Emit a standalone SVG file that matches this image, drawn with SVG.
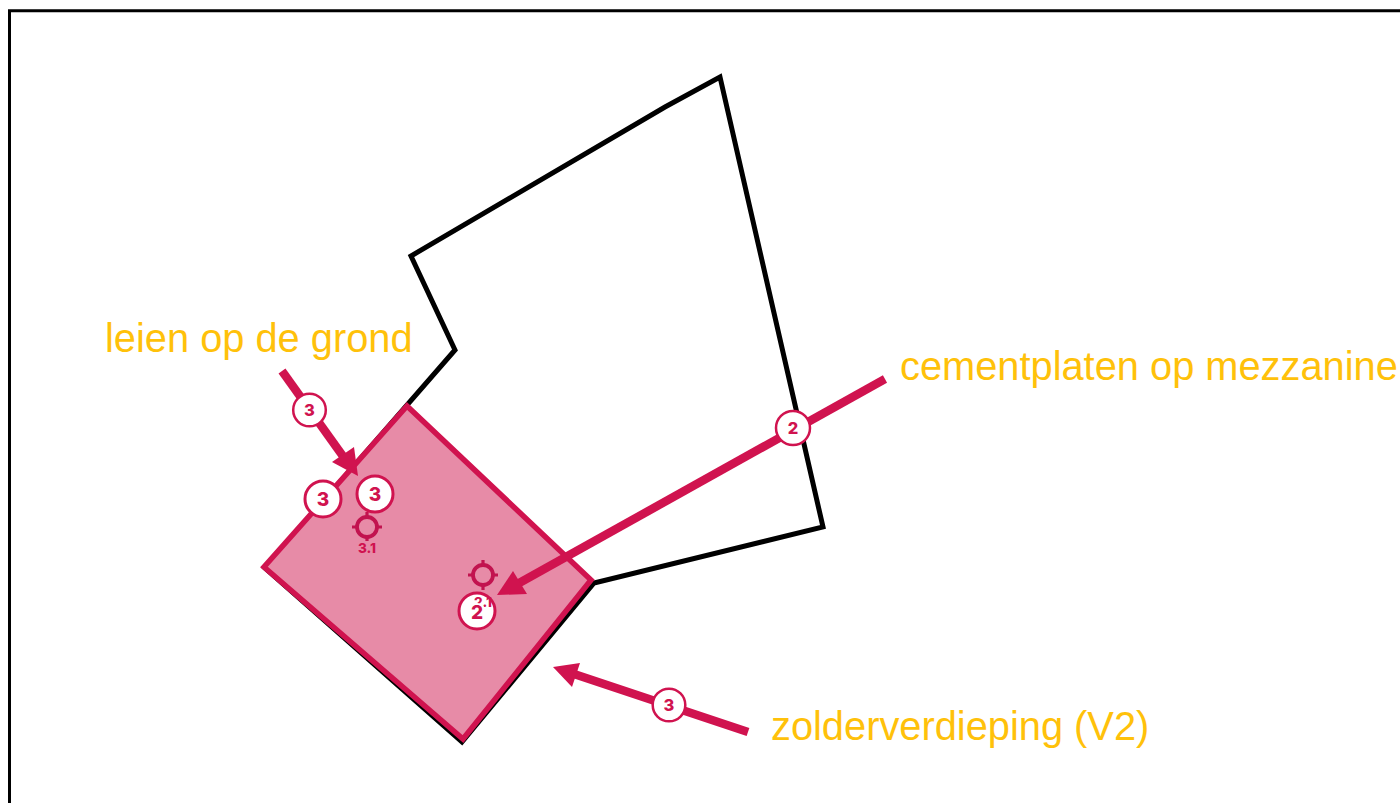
<svg xmlns="http://www.w3.org/2000/svg" width="1400" height="803" viewBox="0 0 1400 803">
<style>
.lbl{font-family:"Liberation Sans",Arial,sans-serif;font-size:39.800px;fill:#ffc10a}
.arrow{stroke:#d0134f;stroke-width:8.500;fill:none}
.head{fill:#d0134f}
.badge{fill:#fff;stroke:#d0134f}
.num{font-family:Inter,"Noto Sans",sans-serif;font-weight:800;fill:#d0134f;text-anchor:middle}
.target{fill:none;stroke:#c2134f;stroke-width:3.800}
.tick{fill:none;stroke:#c2134f;stroke-width:3.200}
</style>
<rect width="1400" height="803" fill="#fff"/>
<path id="frame" d="M9.500 803V10.800H1400" fill="none" stroke="#000" stroke-width="3"/>
<g id="building"><path d="M720 77L823 527L594 583L462 742L265 568L455 350L411 256L665 107Z" fill="none" stroke="#000" stroke-width="5" stroke-linejoin="miter"/></g>
<g id="zone"><path d="M407 406L591 580L463 739L264 567Z" fill="#e78ba7" stroke="#d0134f" stroke-width="5.500"/></g>
<g id="connectors">
<path class="arrow" d="M282 371L350 466"/><path class="head" d="M358 476L332 462L354 447Z"/>
<path class="arrow" d="M885 379L512 587"/><path class="head" d="M497 595L513 571L527 594Z"/>
<path class="arrow" d="M748 732L568 672"/><path class="head" d="M553 667L580 663L572 687Z"/>
</g>
<g id="badge-arrow-3a"><circle class="badge" cx="309.500" cy="410" r="16.300" stroke-width="2.500"/><text class="num" x="309.500" y="416" font-size="16.500">3</text></g>
<g id="badge-arrow-2"><circle class="badge" cx="793" cy="428" r="17" stroke-width="2.500"/><text class="num" x="793" y="434" font-size="16.500">2</text></g>
<g id="badge-arrow-3b"><circle class="badge" cx="669" cy="705" r="16.300" stroke-width="2.500"/><text class="num" x="669" y="711" font-size="16.500">3</text></g>
<g id="badge-3-edge"><circle class="badge" cx="323" cy="499" r="18" stroke-width="3"/><text class="num" x="323" y="506" font-size="19">3</text></g>
<g id="marker-3-1">
<circle class="target" cx="367" cy="527" r="10"/><path class="tick" d="M352 527H358M376 527H382M367 512V518M367 536V541"/>
<text class="num" x="367" y="553" font-size="13.500">3.1</text>
<circle class="badge" cx="375" cy="494" r="18" stroke-width="3"/><text class="num" x="375" y="501" font-size="19">3</text>
</g>
<g id="marker-2-1">
<circle class="target" cx="483" cy="575" r="10"/><path class="tick" d="M468 575H474M492 575H498M483 560V566M483 584V590"/>
<circle class="badge" cx="477" cy="611" r="18" stroke-width="3"/>
<text class="num" x="483" y="607" font-size="13.500">2.1</text>
<text class="num" x="477" y="619" font-size="19" stroke="#fff" stroke-width="4" paint-order="stroke">2</text>
</g>
<g id="labels">
<text class="lbl" x="105" y="352">leien op de grond</text>
<text class="lbl" x="900" y="380">cementplaten op mezzanine</text>
<text class="lbl" x="771" y="740">zolderverdieping (V2)</text>
</g>
</svg>
